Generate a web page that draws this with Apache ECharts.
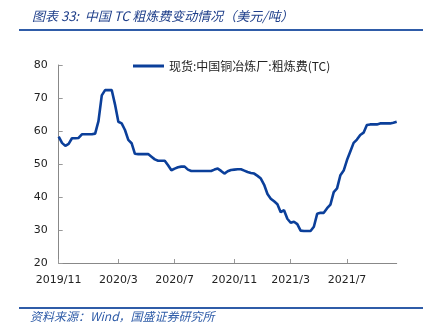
<!DOCTYPE html>
<html>
<head>
<meta charset="utf-8">
<script src="https://cdn.jsdelivr.net/npm/echarts@6/dist/echarts.min.js"></script>
<style>
  html, body { margin: 0; padding: 0; background: #fff; }
  #chart { width: 431px; height: 331px; }
</style>
</head>
<body>
<div id="chart"></div>
<script>
// Weekly China copper smelter TC (USD/t), from the first week of Nov 2019
const startDate = '2019-11-01';
const tcValues = [
  58.3, 56.4, 55.5, 56.1, 57.8, 57.8, 57.9, 59.0, 59.0, 59.0,
  59.0, 59.2, 63.0, 70.8, 72.4, 72.4, 72.4, 68.0, 62.8, 62.3,
  60.3, 57.3, 56.3, 53.1, 53.0, 53.0, 53.0, 53.0, 52.2, 51.4,
  51.0, 51.0, 51.0, 49.6, 48.1, 48.6, 49.0, 49.2, 49.2, 48.3,
  47.9, 47.9, 47.9, 47.9, 47.9, 47.9, 47.9, 48.3, 48.6, 47.9,
  47.1, 47.8, 48.2, 48.3, 48.4, 48.4, 48.0, 47.6, 47.3, 47.1,
  46.4, 45.6, 43.7, 40.9, 39.5, 38.7, 37.8, 35.4, 36.0, 33.4,
  32.2, 32.5, 31.8, 29.8, 29.7, 29.7, 29.7, 31.0, 34.9, 35.2,
  35.2, 36.6, 37.7, 41.5, 42.6, 46.6, 48.0, 51.2, 53.8, 56.4,
  57.4, 58.8, 59.5, 61.8, 62.0, 62.0, 62.0, 62.3, 62.3, 62.3,
  62.3, 62.5, 62.8
];
const tickMonths = ['2019/11', '2020/3', '2020/7', '2020/11', '2021/3', '2021/7'];
const yTicks = [20, 30, 40, 50, 60, 70, 80];
const seriesName = '现货:中国铜冶炼厂:粗炼费(TC)';
const titleText = '图表 33:  中国 TC 粗炼费变动情况（美元/吨）';
const sourceText = '资料来源：Wind，国盛证券研究所';

// weekly calendar for the category axis
const weeks = [];
{
  const d = new Date(startDate + 'T00:00:00Z');
  for (let i = 0; i < tcValues.length; i++) {
    const t = new Date(d.getTime() + i * 7 * 86400000);
    weeks.push(t.getUTCFullYear() + '/' + (t.getUTCMonth() + 1) + '/' + t.getUTCDate());
  }
}
// a week carries a month label when it is the first week of that month
const monthOf = s => s.split('/').slice(0, 2).join('/');
const labelled = new Set();
weeks.forEach((w, i) => {
  const m = monthOf(w);
  const prev = i > 0 ? monthOf(weeks[i - 1]) : null;
  if (tickMonths.includes(m) && m !== prev) labelled.add(i);
});
const showAt = idx => labelled.has(idx);

const chart = echarts.init(document.getElementById('chart'), null, { renderer: 'canvas' });
const axisFont = 'DejaVu Sans, Verdana, sans-serif';
const cjkFont = '"Noto Sans CJK SC", "Noto Sans", sans-serif';

chart.setOption({
  animation: false,
  backgroundColor: '#ffffff',
  title: {
    text: titleText,
    left: 27, top: 5,
    textStyle: { fontFamily: cjkFont, fontSize: 13, fontWeight: 'normal', fontStyle: 'italic', color: '#1f3f8a' }
  },
  legend: {
    data: [seriesName],
    top: 55, left: 128,
    itemWidth: 31, itemHeight: 3, itemGap: 4,
    icon: 'rect',
    textStyle: { fontFamily: cjkFont, fontSize: 12, color: '#222' }
  },
  grid: { left: 58.7, right: 34.3, top: 65, bottom: 68, containLabel: false },
  xAxis: {
    type: 'category',
    data: weeks,
    boundaryGap: false,
    axisLine: { lineStyle: { color: '#888', width: 1 } },
    axisTick: { inside: true, length: 4, interval: showAt, lineStyle: { color: '#999' } },
    axisLabel: {
      interval: showAt,
      margin: 12,
      fontFamily: axisFont, fontSize: 11, color: '#222',
      formatter: v => monthOf(v)
    },
    splitLine: { show: false }
  },
  yAxis: {
    type: 'value',
    min: yTicks[0], max: yTicks[yTicks.length - 1], interval: 10,
    axisLine: { show: true, lineStyle: { color: '#888', width: 1 } },
    axisTick: { show: true, inside: true, length: 4, lineStyle: { color: '#999' } },
    axisLabel: { margin: 11, fontFamily: axisFont, fontSize: 11, color: '#222' },
    splitLine: { show: false }
  },
  series: [{
    name: seriesName,
    type: 'line',
    data: tcValues,
    symbol: 'none',
    smooth: false,
    lineStyle: { color: '#0b3f9a', width: 2.6 },
    itemStyle: { color: '#0b3f9a' }
  }],
  graphic: [
    { type: 'rect', shape: { x: 19, y: 29, width: 404, height: 2 }, style: { fill: '#2f5ca8' } },
    { type: 'rect', shape: { x: 19, y: 307, width: 404, height: 2 }, style: { fill: '#2f5ca8' } },
    {
      type: 'text', left: 30, top: 310,
      style: { text: sourceText, font: 'italic 12px "Noto Sans CJK SC", sans-serif', fill: '#2f5ca8' }
    }
  ]
});
</script>
</body>
</html>
